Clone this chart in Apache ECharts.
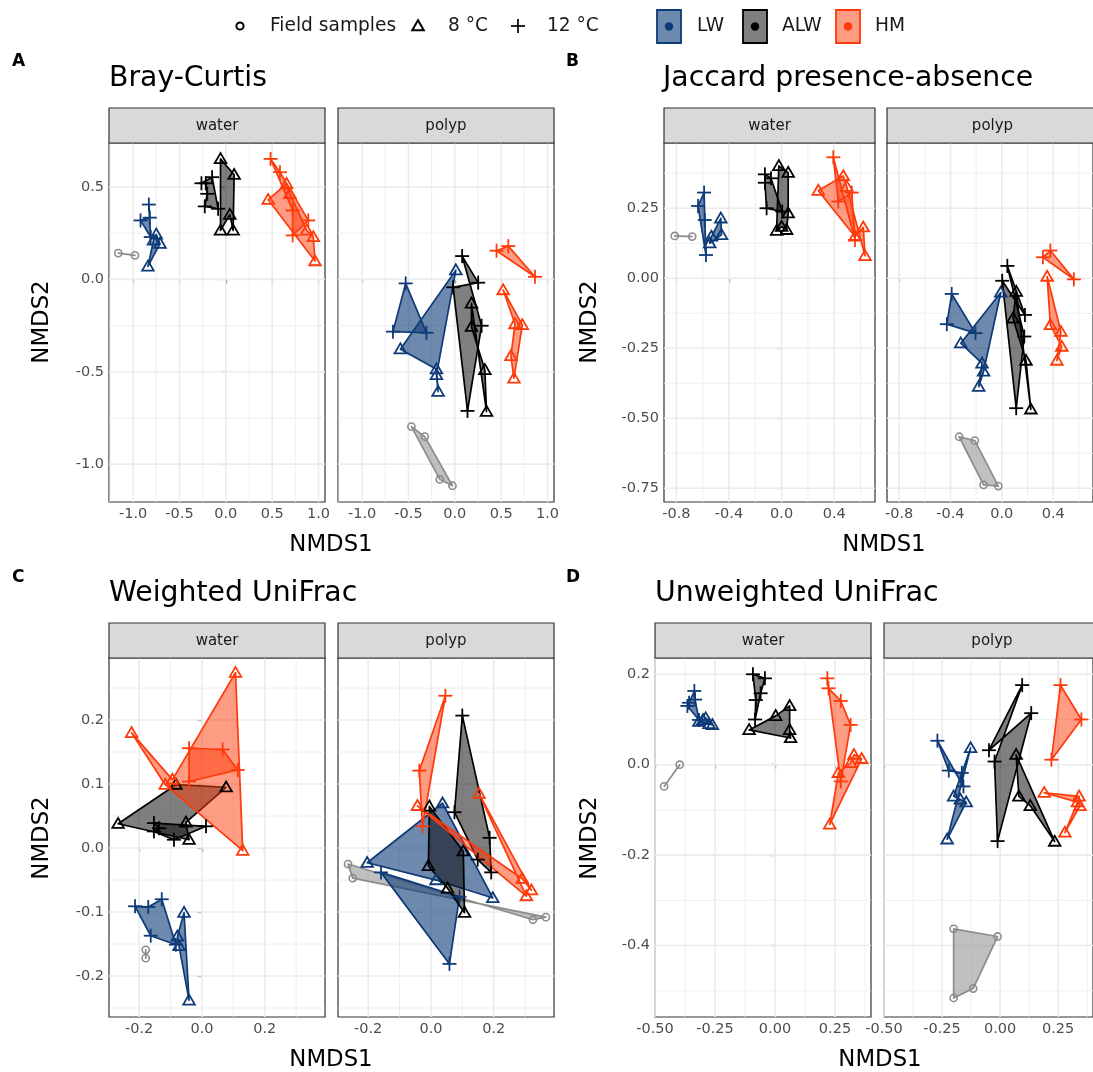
<!DOCTYPE html>
<html><head><meta charset="utf-8">
<script src="https://cdn.jsdelivr.net/npm/echarts@6/dist/echarts.min.js"></script>
<style>html,body{margin:0;padding:0;background:#fff}#chart{width:1093px;height:1072px}</style>
</head><body><div id="chart"></div>
<script>
// ---------------- DATA ----------------
const groupNames = ['LW', 'ALW', 'HM'];
const shapeNames = ['Field samples', '8 °C', '12 °C'];
const facetNames = ['water', 'polyp'];
const plotTitles = ['Bray-Curtis', 'Jaccard presence-absence', 'Weighted UniFrac', 'Unweighted UniFrac'];
const plotLetters = ['A', 'B', 'C', 'D'];

// tick labels (major) and minor grid values
const bcXTicks = [-1.0, -0.5, 0.0, 0.5, 1.0];
const bcXMinor = [-1.25, -0.75, -0.25, 0.25, 0.75];
const bcYTicks = [-1.0, -0.5, 0.0, 0.5];
const bcYMinor = [-0.75, -0.25, 0.25];
const jacXTicks = [-0.8, -0.4, 0.0, 0.4];
const jacXMinor = [-0.6, -0.2, 0.2, 0.6];
const jacYTicks = [-0.75, -0.50, -0.25, 0.00, 0.25];
const jacYMinor = [-0.625, -0.375, -0.125, 0.125, 0.375];
const wuXTicks = [-0.2, 0.0, 0.2];
const wuXMinor = [-0.1, 0.1, 0.3];
const wuYTicks = [-0.2, -0.1, 0.0, 0.1, 0.2];
const wuYMinor = [-0.25, -0.15, -0.05, 0.05, 0.15, 0.25];
const uuXTicks = [-0.50, -0.25, 0.00, 0.25];
const uuXMinor = [-0.375, -0.125, 0.125, 0.375];
const uuYTicks = [-0.4, -0.2, 0.0, 0.2];
const uuYMinor = [-0.5, -0.3, -0.1, 0.1];

// Bray-Curtis, water
const bcWaterField = [[-1.16, 0.142], [-0.98, 0.130]];
const bcWaterLW8 = [[-0.75, 0.243], [-0.71, 0.193], [-0.84, 0.070], [-0.78, 0.211]];
const bcWaterLW12 = [[-0.83, 0.405], [-0.82, 0.334], [-0.92, 0.319], [-0.81, 0.229]];
const bcWaterALW8 = [[-0.057, 0.652], [0.09, 0.566], [0.079, 0.265], [0.043, 0.35], [-0.057, 0.265]];
const bcWaterALW12 = [[-0.263, 0.52], [-0.148, 0.553], [-0.083, 0.382], [-0.227, 0.395], [-0.2, 0.463], [-0.216, 0.52]];
const bcWaterHM8 = [[0.457, 0.431], [0.962, 0.099], [0.944, 0.229], [0.872, 0.265], [0.692, 0.463], [0.656, 0.517]];
const bcWaterHM12 = [[0.483, 0.652], [0.584, 0.58], [0.89, 0.319], [0.721, 0.238], [0.721, 0.373]];
// Bray-Curtis, polyp
const bcPolypField = [[-0.468, -0.797], [-0.324, -0.851], [-0.025, -1.117], [-0.162, -1.083]];
const bcPolypLW8 = [[0.011, 0.05], [-0.587, -0.378], [-0.198, -0.486], [-0.18, -0.608], [-0.198, -0.517]];
const bcPolypLW12 = [[-0.53, -0.022], [-0.306, -0.289], [-0.667, -0.283]];
const bcPolypALW8 = [[0.18, -0.13], [0.342, -0.716], [0.324, -0.49], [0.18, -0.256]];
const bcPolypALW12 = [[0.079, 0.126], [0.289, -0.251], [0.137, -0.712], [-0.018, -0.043], [0.252, -0.018]];
const bcPolypHM8 = [[0.522, -0.058], [0.728, -0.247], [0.638, -0.536], [0.605, -0.415], [0.649, -0.242]];
const bcPolypHM12 = [[0.45, 0.155], [0.577, 0.18], [0.865, 0.014]];
// Jaccard, water
const jacWaterField = [[-0.812, 0.151], [-0.68, 0.149]];
const jacWaterLW8 = [[-0.462, 0.214], [-0.457, 0.155], [-0.546, 0.125], [-0.533, 0.149]];
const jacWaterLW12 = [[-0.589, 0.306], [-0.635, 0.258], [-0.575, 0.083], [-0.584, 0.208]];
const jacWaterALW8 = [[-0.021, 0.401], [0.05, 0.377], [0.05, 0.232], [0.038, 0.173], [0.0, 0.184], [-0.038, 0.17]];
const jacWaterALW12 = [[-0.127, 0.371], [-0.081, 0.357], [0.005, 0.238], [-0.114, 0.25], [-0.127, 0.341]];
const jacWaterHM8 = [[0.279, 0.313], [0.469, 0.365], [0.495, 0.327], [0.634, 0.08], [0.621, 0.182], [0.558, 0.149]];
const jacWaterHM12 = [[0.393, 0.432], [0.558, 0.137], [0.533, 0.306], [0.431, 0.274]];
// Jaccard, polyp
const jacPolypField = [[-0.332, -0.566], [-0.21, -0.58], [-0.027, -0.742], [-0.142, -0.738]];
const jacPolypLW8 = [[-0.008, -0.051], [-0.32, -0.232], [-0.154, -0.304], [-0.18, -0.387], [-0.142, -0.333]];
const jacPolypLW12 = [[-0.39, -0.056], [-0.205, -0.196], [-0.428, -0.164]];
const jacPolypALW8 = [[0.112, -0.048], [0.226, -0.468], [0.188, -0.294], [0.087, -0.143]];
const jacPolypALW12 = [[0.043, 0.044], [0.175, -0.208], [0.112, -0.464], [0.003, -0.009], [0.18, -0.131]];
const jacPolypHM8 = [[0.353, 0.006], [0.46, -0.191], [0.429, -0.294], [0.467, -0.244], [0.378, -0.167]];
const jacPolypHM12 = [[0.32, 0.075], [0.378, 0.099], [0.561, -0.004]];
// Weighted UniFrac, water
const wuWaterField = [[-0.179, -0.159], [-0.179, -0.172]];
const wuWaterLW8 = [[-0.057, -0.101], [-0.041, -0.238], [-0.073, -0.153], [-0.078, -0.138]];
const wuWaterLW12 = [[-0.213, -0.091], [-0.171, -0.092], [-0.128, -0.08], [-0.083, -0.151], [-0.163, -0.137]];
const wuWaterALW8 = [[-0.267, 0.038], [-0.083, 0.099], [0.077, 0.095], [-0.051, 0.04], [-0.041, 0.013]];
const wuWaterALW12 = [[-0.153, 0.039], [0.013, 0.034], [-0.089, 0.013], [-0.153, 0.026], [-0.137, 0.031]];
const wuWaterHM8 = [[-0.224, 0.18], [-0.094, 0.107], [0.107, 0.274], [0.13, -0.004], [-0.117, 0.099]];
const wuWaterHM12 = [[-0.041, 0.156], [-0.041, 0.104], [0.114, 0.122], [0.066, 0.154]];
// Weighted UniFrac, polyp
const wuPolypField = [[-0.264, -0.025], [0.325, -0.112], [0.366, -0.108], [-0.249, -0.047]];
const wuPolypLW8 = [[-0.203, -0.023], [0.037, 0.07], [0.197, -0.078], [0.016, -0.05]];
const wuPolypLW12 = [[-0.159, -0.038], [0.059, -0.181], [0.091, -0.076]];
const wuPolypALW8 = [[-0.005, 0.065], [0.103, -0.005], [0.107, -0.101], [0.053, -0.063], [-0.008, -0.028]];
const wuPolypALW12 = [[0.1, 0.207], [0.075, 0.056], [0.149, -0.018], [0.192, -0.038], [0.187, 0.016]];
const wuPolypHM8 = [[-0.043, 0.066], [0.304, -0.075], [0.153, 0.085], [0.32, -0.066], [0.291, -0.048]];
const wuPolypHM12 = [[0.046, 0.238], [-0.037, 0.121], [-0.027, 0.034]];
// Unweighted UniFrac, water
const uuWaterField = [[-0.462, -0.048], [-0.397, 0.0]];
const uuWaterLW8 = [[-0.317, 0.095], [-0.3, 0.099], [-0.289, 0.103], [-0.261, 0.088], [-0.275, 0.09]];
const uuWaterLW12 = [[-0.336, 0.163], [-0.333, 0.144], [-0.317, 0.099], [-0.365, 0.13], [-0.358, 0.137]];
const uuWaterALW8 = [[-0.108, 0.077], [0.003, 0.108], [0.061, 0.13], [0.061, 0.077], [0.065, 0.059]];
const uuWaterALW12 = [[-0.092, 0.2], [-0.042, 0.191], [-0.06, 0.158], [-0.083, 0.1], [-0.08, 0.143]];
const uuWaterHM8 = [[0.329, 0.022], [0.361, 0.013], [0.228, -0.132], [0.264, -0.018], [0.315, 0.004]];
const uuWaterHM12 = [[0.218, 0.191], [0.223, 0.169], [0.274, 0.141], [0.315, 0.088], [0.274, -0.037]];
// Unweighted UniFrac, polyp
const uuPolypField = [[-0.2, -0.363], [-0.011, -0.38], [-0.116, -0.495], [-0.2, -0.516]];
const uuPolypLW8 = [[-0.127, 0.037], [-0.228, -0.165], [-0.146, -0.083], [-0.171, -0.077], [-0.2, -0.07]];
const uuPolypLW12 = [[-0.27, 0.053], [-0.158, -0.048], [-0.165, -0.018], [-0.221, -0.013]];
const uuPolypALW8 = [[0.069, 0.022], [0.235, -0.17], [0.13, -0.091], [0.081, -0.07]];
const uuPolypALW12 = [[0.095, 0.176], [-0.048, 0.032], [0.134, 0.114], [-0.011, -0.169], [-0.024, 0.007]];
const uuPolypHM8 = [[0.19, -0.062], [0.34, -0.07], [0.344, -0.091], [0.279, -0.15], [0.333, -0.083]];
const uuPolypHM12 = [[0.26, 0.176], [0.35, 0.1], [0.221, 0.011]];

// ---------------- STYLE / LAYOUT ----------------
const FONT = 'DejaVu Sans';
const groupColor = { Field: '#8C8C8C', LW: '#0E3A78', ALW: '#000000', HM: '#FF3A0A' };
const groupFill = { Field: 'rgba(140,140,140,0.55)', LW: 'rgba(14,58,120,0.6)', ALW: 'rgba(0,0,0,0.5)', HM: 'rgba(255,58,10,0.5)' };

const plots = [
  { xr: [-1.26, 1.07], yr: [-1.205, 0.738], xt: bcXTicks, xm: bcXMinor, yt: bcYTicks, ym: bcYMinor, xd: 1, yd: 1 },
  { xr: [-0.894, 0.71], yr: [-0.799, 0.483], xt: jacXTicks, xm: jacXMinor, yt: jacYTicks, ym: jacYMinor, xd: 1, yd: 2 },
  { xr: [-0.296, 0.392], yr: [-0.264, 0.297], xt: wuXTicks, xm: wuXMinor, yt: wuYTicks, ym: wuYMinor, xd: 1, yd: 1 },
  { xr: [-0.5, 0.4], yr: [-0.558, 0.236], xt: uuXTicks, xm: uuXMinor, yt: uuYTicks, ym: uuYMinor, xd: 2, yd: 1 }
];
// panel rectangles [left, top, width, height]; index = plot*2 + facet
const rects = [
  [109, 143, 216, 359], [338, 143, 216, 359],
  [664, 143, 211, 359], [887, 143, 211, 359],
  [109, 658, 216, 359], [338, 658, 216, 359],
  [655, 658, 216, 359], [884, 658, 216, 359]
];
const headers = [
  { letter: [12, 62], title: [109, 79], xTitle: [331, 545], yTitle: [42, 322], strip: 108 },
  { letter: [566, 62], title: [663, 79], xTitle: [884, 545], yTitle: [590, 322], strip: 108 },
  { letter: [12, 578], title: [109, 594], xTitle: [331, 1060], yTitle: [42, 838], strip: 623 },
  { letter: [566, 578], title: [655, 594], xTitle: [880, 1060], yTitle: [590, 838], strip: 623 }
];

// layers: panel index, group, shape (0 circle, 1 triangle, 2 cross), points
const layers = [
  [0, 'Field', 0, bcWaterField], [0, 'LW', 1, bcWaterLW8], [0, 'LW', 2, bcWaterLW12],
  [0, 'ALW', 1, bcWaterALW8], [0, 'ALW', 2, bcWaterALW12], [0, 'HM', 1, bcWaterHM8], [0, 'HM', 2, bcWaterHM12],
  [1, 'Field', 0, bcPolypField], [1, 'LW', 1, bcPolypLW8], [1, 'LW', 2, bcPolypLW12],
  [1, 'ALW', 1, bcPolypALW8], [1, 'ALW', 2, bcPolypALW12], [1, 'HM', 1, bcPolypHM8], [1, 'HM', 2, bcPolypHM12],
  [2, 'Field', 0, jacWaterField], [2, 'LW', 1, jacWaterLW8], [2, 'LW', 2, jacWaterLW12],
  [2, 'ALW', 1, jacWaterALW8], [2, 'ALW', 2, jacWaterALW12], [2, 'HM', 1, jacWaterHM8], [2, 'HM', 2, jacWaterHM12],
  [3, 'Field', 0, jacPolypField], [3, 'LW', 1, jacPolypLW8], [3, 'LW', 2, jacPolypLW12],
  [3, 'ALW', 1, jacPolypALW8], [3, 'ALW', 2, jacPolypALW12], [3, 'HM', 1, jacPolypHM8], [3, 'HM', 2, jacPolypHM12],
  [4, 'Field', 0, wuWaterField], [4, 'LW', 1, wuWaterLW8], [4, 'LW', 2, wuWaterLW12],
  [4, 'ALW', 1, wuWaterALW8], [4, 'ALW', 2, wuWaterALW12], [4, 'HM', 1, wuWaterHM8], [4, 'HM', 2, wuWaterHM12],
  [5, 'Field', 0, wuPolypField], [5, 'LW', 1, wuPolypLW8], [5, 'LW', 2, wuPolypLW12],
  [5, 'ALW', 1, wuPolypALW8], [5, 'ALW', 2, wuPolypALW12], [5, 'HM', 1, wuPolypHM8], [5, 'HM', 2, wuPolypHM12],
  [6, 'Field', 0, uuWaterField], [6, 'LW', 1, uuWaterLW8], [6, 'LW', 2, uuWaterLW12],
  [6, 'ALW', 1, uuWaterALW8], [6, 'ALW', 2, uuWaterALW12], [6, 'HM', 1, uuWaterHM8], [6, 'HM', 2, uuWaterHM12],
  [7, 'Field', 0, uuPolypField], [7, 'LW', 1, uuPolypLW8], [7, 'LW', 2, uuPolypLW12],
  [7, 'ALW', 1, uuPolypALW8], [7, 'ALW', 2, uuPolypALW12], [7, 'HM', 1, uuPolypHM8], [7, 'HM', 2, uuPolypHM12]
];

// ---------------- BUILD ----------------
function symbolShape(shape, cx, cy, color, lw) {
  if (shape === 0) {
    return { type: 'circle', shape: { cx, cy, r: 3.6 }, style: { fill: 'none', stroke: color, lineWidth: lw } };
  }
  if (shape === 1) {
    const s = 5.8;
    return { type: 'polygon', shape: { points: [[cx, cy - s * 1.0], [cx - s, cy + s * 0.72], [cx + s, cy + s * 0.72]] },
      style: { fill: 'none', stroke: color, lineWidth: lw, lineJoin: 'miter' } };
  }
  const h = 7;
  return { type: 'group', children: [
    { type: 'line', shape: { x1: cx - h, y1: cy, x2: cx + h, y2: cy }, style: { stroke: color, lineWidth: lw } },
    { type: 'line', shape: { x1: cx, y1: cy - h, x2: cx, y2: cy + h }, style: { stroke: color, lineWidth: lw } }
  ] };
}

const grids = [], xAxes = [], yAxes = [], series = [], graphics = [];
rects.forEach((r, i) => {
  const p = plots[Math.floor(i / 2)];
  grids.push({ left: r[0], top: r[1], width: r[2], height: r[3], show: true, backgroundColor: '#fff',
    borderColor: '#333333', borderWidth: 1.2, containLabel: false });
  const lab = (d) => ({ formatter: v => v.toFixed(d), color: '#4D4D4D', fontSize: 14.5, fontFamily: FONT });
  xAxes.push({ gridIndex: i, type: 'value', min: p.xr[0], max: p.xr[1],
    axisLine: { show: false }, splitLine: { show: false }, axisPointer: { show: false },
    axisTick: { show: true, customValues: p.xt, length: 4, lineStyle: { color: '#333', width: 1.2 } },
    axisLabel: Object.assign(lab(p.xd), { customValues: p.xt, margin: 5 }) });
  yAxes.push({ gridIndex: i, type: 'value', min: p.yr[0], max: p.yr[1],
    axisLine: { show: false }, splitLine: { show: false }, axisPointer: { show: false },
    axisTick: { show: i % 2 === 0, customValues: p.yt, length: 4, lineStyle: { color: '#333', width: 1.2 } },
    axisLabel: Object.assign(lab(p.yd), { customValues: p.yt, margin: 5, show: i % 2 === 0 }) });

  // grid lines from the tick arrays, drawn as one group through the axes' scales
  series.push({ type: 'custom', xAxisIndex: i, yAxisIndex: i, z: 1, silent: true, clip: false,
    data: [[p.xr[0], p.yr[0]]],
    renderItem: (params, api) => {
      const cs = params.coordSys; const children = [];
      const vline = (v, w) => { const x = api.coord([v, p.yr[0]])[0];
        children.push({ type: 'line', shape: { x1: x, y1: cs.y, x2: x, y2: cs.y + cs.height }, style: { stroke: '#EBEBEB', lineWidth: w } }); };
      const hline = (v, w) => { const y = api.coord([p.xr[0], v])[1];
        children.push({ type: 'line', shape: { x1: cs.x, y1: y, x2: cs.x + cs.width, y2: y }, style: { stroke: '#EBEBEB', lineWidth: w } }); };
      p.xm.forEach(v => vline(v, 0.8)); p.ym.forEach(v => hline(v, 0.8));
      p.xt.forEach(v => vline(v, 1.6)); p.yt.forEach(v => hline(v, 1.6));
      return { type: 'group', children };
    } });

  // strip
  const h = headers[Math.floor(i / 2)];
  graphics.push({ type: 'rect', shape: { x: r[0], y: h.strip, width: r[2], height: r[1] - h.strip },
    style: { fill: '#D9D9D9', stroke: '#333333', lineWidth: 1.2 }, z: 10 });
  graphics.push({ type: 'text', x: r[0] + r[2] / 2, y: h.strip + (r[1] - h.strip) / 2 + 1, z: 11,
    style: { text: facetNames[i % 2], font: '15px "DejaVu Sans"', fill: '#1A1A1A', textAlign: 'center', textVerticalAlign: 'middle' } });
});

// polygons first, then points
layers.forEach(([pi, g, shp, pts]) => {
  series.push({ type: 'custom', xAxisIndex: pi, yAxisIndex: pi, z: 2, clip: true, silent: true, data: pts,
    renderItem: (params, api) => {
      if (params.dataIndex !== 0) return { type: 'group', children: [] };
      const coords = pts.map(pt => api.coord(pt));
      return { type: 'polygon', shape: { points: coords },
        style: { fill: groupFill[g], stroke: groupColor[g], lineWidth: 1.7, lineJoin: 'round' } };
    } });
});
layers.forEach(([pi, g, shp, pts]) => {
  series.push({ type: 'custom', xAxisIndex: pi, yAxisIndex: pi, z: 3, clip: true, silent: true, data: pts,
    renderItem: (params, api) => {
      const c = api.coord([api.value(0), api.value(1)]);
      return symbolShape(shp, c[0], c[1], groupColor[g], shp === 0 ? 1.6 : 1.8);
    } });
});

// headers
headers.forEach((h, k) => {
  graphics.push({ type: 'text', x: h.letter[0], y: h.letter[1], style: { text: plotLetters[k], font: 'bold 17px "DejaVu Sans"', fill: '#000', textVerticalAlign: 'middle' } });
  graphics.push({ type: 'text', x: h.title[0], y: h.title[1], style: { text: plotTitles[k], font: '28.3px "DejaVu Sans"', fill: '#000', textVerticalAlign: 'middle' } });
  graphics.push({ type: 'text', x: h.xTitle[0], y: h.xTitle[1], style: { text: 'NMDS1', font: '22.8px "DejaVu Sans"', fill: '#000', textAlign: 'center', textVerticalAlign: 'middle' } });
  graphics.push({ type: 'text', x: h.yTitle[0], y: h.yTitle[1], rotation: Math.PI / 2, style: { text: 'NMDS2', font: '22.8px "DejaVu Sans"', fill: '#000', textAlign: 'center', textVerticalAlign: 'middle' } });
});

// legend
const LY = 26;
const legFont = '18.6px "DejaVu Sans"';
graphics.push({ type: 'circle', shape: { cx: 240, cy: LY, r: 3.6 }, style: { fill: 'none', stroke: '#000', lineWidth: 2 } });
graphics.push({ type: 'text', x: 270, y: LY, style: { text: shapeNames[0], font: legFont, fill: '#1A1A1A', textVerticalAlign: 'middle' } });
graphics.push(symbolShape(1, 418, LY, '#000', 2));
graphics.push({ type: 'text', x: 448, y: LY, style: { text: shapeNames[1], font: legFont, fill: '#1A1A1A', textVerticalAlign: 'middle' } });
graphics.push(symbolShape(2, 518, LY, '#000', 1.7));
graphics.push({ type: 'text', x: 547, y: LY, style: { text: shapeNames[2], font: legFont, fill: '#1A1A1A', textVerticalAlign: 'middle' } });
const boxX = [657, 743, 836], txtX = [697, 782, 875];
groupNames.forEach((g, k) => {
  graphics.push({ type: 'rect', shape: { x: boxX[k], y: 10, width: 24, height: 33 }, style: { fill: groupFill[g], stroke: groupColor[g], lineWidth: 1.8 } });
  graphics.push({ type: 'circle', shape: { cx: boxX[k] + 12, cy: 26.5, r: 4.2 }, style: { fill: groupColor[g] } });
  graphics.push({ type: 'text', x: txtX[k], y: LY, style: { text: g, font: legFont, fill: '#1A1A1A', textVerticalAlign: 'middle' } });
});

const chart = echarts.init(document.getElementById('chart'), null, { renderer: 'canvas' });
chart.setOption({
  animation: false,
  backgroundColor: '#fff',
  grid: grids, xAxis: xAxes, yAxis: yAxes, series,
  graphic: { elements: graphics }
});
</script></body></html>
